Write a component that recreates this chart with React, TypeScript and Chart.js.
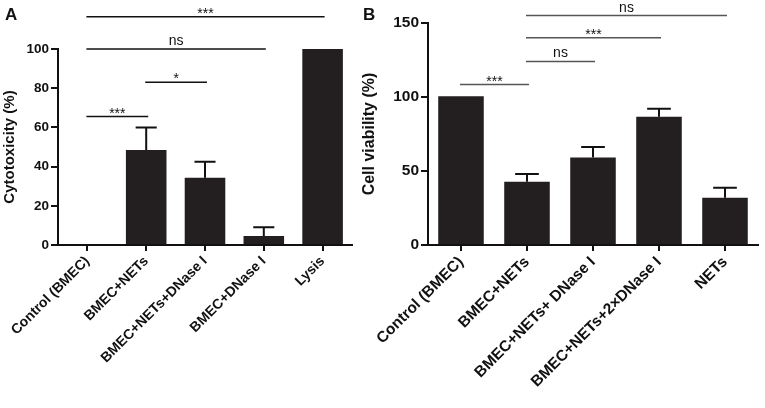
import React, { useRef, useEffect } from 'react';
import Chart from 'chart.js/auto';

// Panel A: cytotoxicity
const groupsA = ['Control (BMEC)', 'BMEC+NETs', 'BMEC+NETs+DNase I', 'BMEC+DNase I', 'Lysis'];
const cytotoxicity = [0, 48.5, 34.3, 4.6, 100];
const cytotoxicitySd = [0, 11.5, 8.2, 4.4, 0];
// [from group, to group, height, label]
const compareA: [number, number, number, string][] = [
    [0, 4, 116.5, '***'],
    [0, 3, 100, 'ns'],
    [1, 2, 83, '*'],
    [0, 1, 65.5, '***'],
];

// Panel B: cell viability
const groupsB = ['Control (BMEC)', 'BMEC+NETs', 'BMEC+NETs+ DNase I', 'BMEC+NETs+2×DNase I', 'NETs'];
const viability = [100.5, 42.8, 59.2, 86.6, 32];
const viabilitySd = [0, 5.2, 7.1, 5.4, 6.7];
const compareB: [number, number, number, string][] = [
    [0, 1, 108.4, '***'],
    [1, 2, 124, 'ns'],
    [1, 3, 140, '***'],
    [1, 4, 155, 'ns'],
];

const FONT = '"Liberation Sans", Arial, sans-serif';

interface PanelProps {
    letter: string;
    labels: string[];
    values: number[];
    sd: number[];
    compare: [number, number, number, string][];
    yTitle: string;
    yMax: number;
    yStep: number;
    left: number;
    width: number;
    padTop: number;
    padRight: number;
    yWidth: number;
    tickSize: number;
    labelSize: number;
    titleSize: number;
    titlePad: number;
    sigColor: string;
    letterX: number;
}

const Panel = (p: PanelProps) => {
    const chartRef = useRef<HTMLCanvasElement>(null);
    const chartInstance = useRef<Chart | null>(null);

    useEffect(() => {
        if (!chartRef.current) return;
        const ctx = chartRef.current.getContext('2d');
        if (!ctx) return;
        if (chartInstance.current) chartInstance.current.destroy();

        const overlay = {
            id: 'overlay',
            afterDatasetsDraw(chart: any) {
                const c = chart.ctx;
                const y = chart.scales.y;
                const bars = chart.getDatasetMeta(0).data;
                c.save();
                c.strokeStyle = '#111';
                c.lineWidth = 2;
                bars.forEach((bar: any, i: number) => {
                    if (!p.sd[i]) return;
                    const top = y.getPixelForValue(p.values[i] + p.sd[i]);
                    const w = bar.width * 0.52;
                    c.beginPath();
                    c.moveTo(bar.x, bar.y);
                    c.lineTo(bar.x, top);
                    c.moveTo(bar.x - w / 2, top);
                    c.lineTo(bar.x + w / 2, top);
                    c.stroke();
                });
                c.restore();
            },
            afterDraw(chart: any) {
                const c = chart.ctx;
                const x = chart.scales.x;
                const y = chart.scales.y;
                c.save();
                c.strokeStyle = p.sigColor;
                c.fillStyle = '#111';
                c.lineWidth = 1.5;
                c.textAlign = 'center';
                c.textBaseline = 'alphabetic';
                c.font = `14px ${FONT}`;
                p.compare.forEach(([a, b, h, label]) => {
                    const x0 = x.getPixelForValue(a) - 1;
                    const x1 = x.getPixelForValue(b) + 2;
                    const py = y.getPixelForValue(h);
                    c.beginPath();
                    c.moveTo(x0, py);
                    c.lineTo(x1, py);
                    c.stroke();
                    const off = label.includes('*') ? 1 : -4;
                    c.fillText(label, (x0 + x1) / 2, py + off);
                });
                c.font = `bold 17px ${FONT}`;
                c.textAlign = 'left';
                c.fillText(p.letter, p.letterX, 20);
                c.restore();
            },
        };

        chartInstance.current = new Chart(ctx, {
            type: 'bar',
            data: {
                labels: p.labels,
                datasets: [
                    {
                        data: p.values,
                        backgroundColor: '#231f20',
                        borderWidth: 0,
                        barPercentage: 0.69,
                        categoryPercentage: 1,
                    },
                ],
            },
            options: {
                animation: false,
                responsive: true,
                maintainAspectRatio: false,
                layout: { padding: { left: 0, right: p.padRight, top: p.padTop, bottom: 0 } },
                plugins: { legend: { display: false }, tooltip: { enabled: false } },
                scales: {
                    x: {
                        offset: true,
                        afterFit: (s: any) => {
                            s.height = 163;
                        },
                        border: { display: true, color: '#111', width: 2 },
                        grid: {
                            offset: false,
                            drawOnChartArea: false,
                            drawTicks: true,
                            tickLength: 6,
                            color: '#111',
                            lineWidth: 2,
                        },
                        ticks: {
                            autoSkip: false,
                            minRotation: 45,
                            maxRotation: 45,
                            padding: 2,
                            color: '#111',
                            font: { family: FONT, size: p.labelSize, weight: 'bold' },
                        },
                    },
                    y: {
                        min: 0,
                        max: p.yMax,
                        afterFit: (s: any) => {
                            s.width = p.yWidth;
                        },
                        border: { display: true, color: '#111', width: 2 },
                        grid: {
                            drawOnChartArea: false,
                            drawTicks: true,
                            tickLength: 7,
                            color: '#111',
                            lineWidth: 2,
                        },
                        ticks: {
                            stepSize: p.yStep,
                            padding: 2,
                            color: '#111',
                            font: { family: FONT, size: p.tickSize, weight: 'bold' },
                        },
                        title: {
                            display: true,
                            text: p.yTitle,
                            color: '#111',
                            padding: { top: p.titlePad, bottom: 0 },
                            font: { family: FONT, size: p.titleSize, weight: 'bold' },
                        },
                    },
                },
            } as any,
            plugins: [overlay],
        });

        return () => {
            if (chartInstance.current) {
                chartInstance.current.destroy();
                chartInstance.current = null;
            }
        };
    }, []);

    return (
        <div style={{ position: 'absolute', left: p.left, top: 0, width: p.width, height: 408 }}>
            <canvas ref={chartRef}></canvas>
        </div>
    );
};

const App = () => (
    <div style={{ position: 'absolute', left: 0, top: 0, width: 765, height: 408, background: '#fff' }}>
        <Panel
            letter="A"
            labels={groupsA}
            values={cytotoxicity}
            sd={cytotoxicitySd}
            compare={compareA}
            yTitle="Cytotoxicity (%)"
            yMax={100}
            yStep={20}
            left={0}
            width={355}
            padTop={49}
            padRight={3}
            yWidth={58}
            tickSize={13.5}
            labelSize={14}
            titleSize={15}
            titlePad={1}
            sigColor="#111"
            letterX={5}
        />
        <Panel
            letter="B"
            labels={groupsB}
            values={viability}
            sd={viabilitySd}
            compare={compareB}
            yTitle="Cell viability (%)"
            yMax={150}
            yStep={50}
            left={355}
            width={410}
            padTop={23}
            padRight={7}
            yWidth={73}
            tickSize={15.5}
            labelSize={15.5}
            titleSize={16}
            titlePad={5}
            sigColor="#555"
            letterX={8}
        />
    </div>
);

export default App;
